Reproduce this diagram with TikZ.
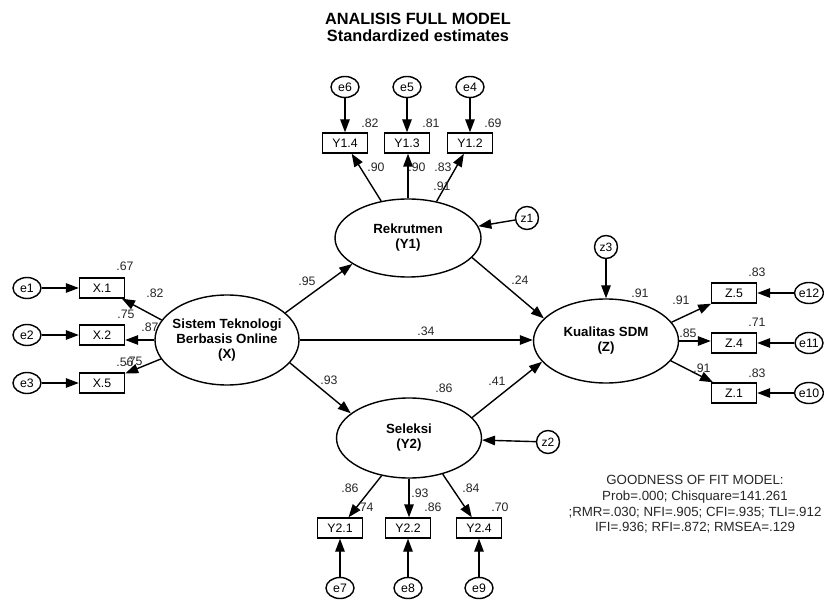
\documentclass[tikz,border=0pt]{standalone}
\usepackage{fontspec}
\setmainfont{Liberation Sans}
\usetikzlibrary{arrows.meta,shapes.geometric}

\begin{document}
\begin{tikzpicture}[x=1pt,y=-1pt,
  every node/.style={inner sep=0pt},
  lat/.style={draw, ellipse, line width=1.4pt},
  lattext/.style={font=\bfseries\fontsize{13.3}{15}\selectfont, align=center},
  obs/.style={draw, rectangle, line width=1.4pt, minimum width=45pt, minimum height=20pt, font=\fontsize{12.3}{13}\selectfont},
  err/.style={draw, ellipse, line width=1.4pt, minimum width=28pt, minimum height=21pt, font=\fontsize{12.3}{13}\selectfont},
  dist/.style={draw, circle, line width=1.4pt, minimum size=23pt, font=\fontsize{12}{13}\selectfont},
  arr/.style={-{Triangle[length=13pt,width=9.5pt]}, line width=1.4pt},
  lab/.style={font=\fontsize{12.3}{13}\selectfont, text=black!85},
]
\useasboundingbox (0,0) rectangle (824,601);

% title
\node[font=\bfseries\fontsize{16.3}{17}\selectfont, align=center] (title) at (418,27.5)
  {ANALISIS FULL MODEL\\Standardized estimates};

% latent variables
\node[lat, minimum width=146pt, minimum height=78pt] (rek) at (408,238) {};
\node[lattext] (rektext) at (rek.center) {Rekrutmen\\(Y1)};
\node[lat, minimum width=144pt, minimum height=90pt] (sis) at (227,340) {};
\node[lattext] (sistext) at (sis.center) {Sistem Teknologi\\Berbasis Online\\(X)};
\node[lat, minimum width=145pt, minimum height=84pt] (kua) at (606,341) {};
\node[lattext] (kuatext) at (kua.center) {Kualitas SDM\\(Z)};
\node[lat, minimum width=145pt, minimum height=80pt] (sel) at (409,438) {};
\node[lattext] (seltext) at (sel.center) {Seleksi\\(Y2)};

% disturbances
\node[dist] (z1) at (527,218) {z1};
\node[dist] (z2) at (548,442) {z2};
\node[dist] (z3) at (606,247) {z3};

% indicators of X
\node[obs] (x1) at (102,288) {X.1};
\node[obs] (x2) at (102,335) {X.2};
\node[obs] (x5) at (102,383) {X.5};
\node[err] (e1) at (27,288) {e1};
\node[err] (e2) at (27,335) {e2};
\node[err] (e3) at (27,383) {e3};

% indicators of Y1
\node[obs] (y14) at (345,143) {Y1.4};
\node[obs] (y13) at (407,143) {Y1.3};
\node[obs] (y12) at (470,143) {Y1.2};
\node[err] (e6) at (345,87) {e6};
\node[err] (e5) at (407,87) {e5};
\node[err] (e4) at (470,87) {e4};

% indicators of Y2
\node[obs] (y21) at (340,528) {Y2.1};
\node[obs] (y22) at (408,528) {Y2.2};
\node[obs] (y24) at (479,528) {Y2.4};
\node[err] (e7) at (340,588) {e7};
\node[err] (e8) at (408,588) {e8};
\node[err] (e9) at (479,588) {e9};

% indicators of Z
\node[obs] (zz5) at (734,293) {Z.5};
\node[obs] (zz4) at (734,343) {Z.4};
\node[obs] (zz1) at (734,393) {Z.1};
\node[err] (e12) at (809,293) {e12};
\node[err] (e11) at (809,343) {e11};
\node[err] (e10) at (809,393) {e10};

% structural paths
\draw[arr] (sis.25) -- (rek.205);
\draw[arr] (sis.east) -- (sis.east -| kua.west);
\draw[arr] (sis.340) -- (sel.157);
\draw[arr] (rek.343) -- (kua.160);
\draw[arr] (sel.18) -- (kua.198);
\draw[arr] (z1) -- (rek);
\draw[arr] (z2) -- (sel);
\draw[arr] (z3) -- (kua);

% measurement paths
\draw[arr] (sis.163) -- (x1);
\draw[arr] (sis.west) -- (sis.west -| x2.east);
\draw[arr] (sis.196) -- (x5);
\draw[arr] (e1) -- (x1);
\draw[arr] (e2) -- (x2);
\draw[arr] (e3) -- (x5);

\draw[arr] (rek.126) -- (y14);
\draw[arr] (rek.north) -- (rek.north |- y13.south);
\draw[arr] (rek.52) -- (y12);
\draw[arr] (e6) -- (y14);
\draw[arr] (e5) -- (y13);
\draw[arr] (e4) -- (y12);

\draw[arr] (sel.234) -- (y21);
\draw[arr] (sel.south) -- (sel.south |- y22.north);
\draw[arr] (sel.313) -- (y24);
\draw[arr] (e7) -- (y21);
\draw[arr] (e8) -- (y22);
\draw[arr] (e9) -- (y24);

\draw[arr] (kua.16) -- (zz5);
\draw[arr] (kua.east) -- (kua.east -| zz4.west);
\draw[arr] (kua.343) -- (zz1);
\draw[arr] (e12) -- (zz5);
\draw[arr] (e11) -- (zz4);
\draw[arr] (e10) -- (zz1);

% estimates
\node[lab] (l1) at (125,266) {.67};
\node[lab] (l2) at (155,293) {.82};
\node[lab] (l3) at (126,314) {.75};
\node[lab] (l4) at (150,327) {.87};
\node[lab] (l5) at (125,362) {.56};
\node[lab] (l6) at (134,361) {.75};

\node[lab] (l7) at (370,123) {.82};
\node[lab] (l8) at (431,123) {.81};
\node[lab] (l9) at (493,123) {.69};
\node[lab] (l10) at (376,167) {.90};
\node[lab] (l11) at (417,167) {.90};
\node[lab] (l12) at (443,167) {.83};
\node[lab] (l13) at (442,186) {.91};

\node[lab] (l14) at (307,281) {.95};
\node[lab] (l15) at (520,280) {.24};
\node[lab] (l16) at (426,331) {.34};
\node[lab] (l17) at (329,380) {.93};
\node[lab] (l18) at (444,388) {.86};
\node[lab] (l19) at (497,381) {.41};

\node[lab] (l20) at (640,293) {.91};
\node[lab] (l21) at (681,300) {.91};
\node[lab] (l22) at (688,333) {.85};
\node[lab] (l23) at (702,368) {.91};
\node[lab] (l24) at (757,272) {.83};
\node[lab] (l25) at (757,322) {.71};
\node[lab] (l26) at (757,373) {.83};

\node[lab] (l27) at (350,488) {.86};
\node[lab] (l28) at (365,507) {.74};
\node[lab] (l29) at (420,493) {.93};
\node[lab] (l30) at (433,507) {.86};
\node[lab] (l31) at (471,488) {.84};
\node[lab] (l32) at (500,507) {.70};

% fit summary
\node[font=\fontsize{13.3}{15.6}\selectfont, text=black!85, align=center] (fit) at (695,504.5)
  {GOODNESS OF FIT MODEL:\\Prob=.000; Chisquare=141.261\\;RMR=.030; NFI=.905; CFI=.935; TLI=.912\\IFI=.936; RFI=.872; RMSEA=.129};
\end{tikzpicture}
\end{document}
